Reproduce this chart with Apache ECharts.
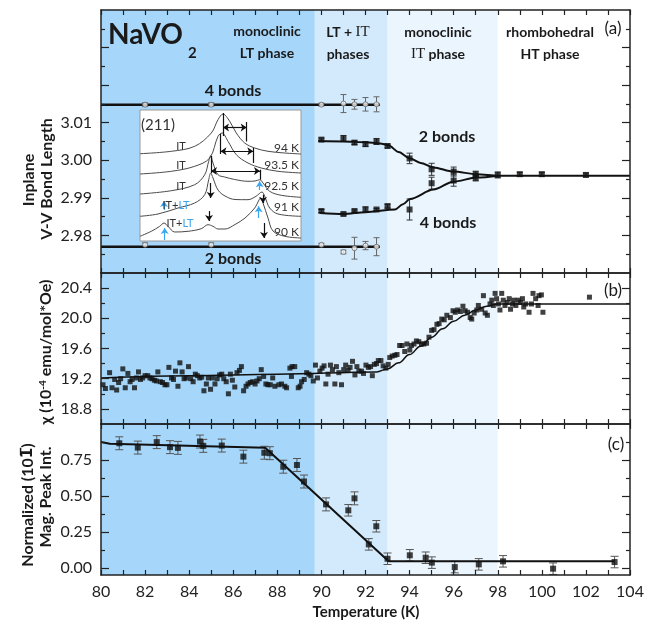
<!DOCTYPE html>
<html lang="en">
<head>
<meta charset="UTF-8" />
<title>NaVO2 structural and magnetic transitions</title>
<script src="https://cdn.jsdelivr.net/npm/echarts@6/dist/echarts.min.js"></script>
<style>
  html, body { margin: 0; padding: 0; background: #fff; }
  #main { width: 655px; height: 629px; }
</style>
</head>
<body>
<div id="main"></div>
<script>
// ---------- data ----------
var phaseBounds = [80, 89.7, 93.0, 98, 104];

var xTicks = [80, 81, 82, 83, 84, 85, 86, 87, 88, 89, 90, 91, 92, 93, 94, 95, 96, 97, 98, 99, 100, 101, 102, 103, 104];
var xTickLabels = [80, 82, 84, 86, 88, 90, 92, 94, 96, 98, 100, 102, 104];

// (a) bond lengths
var bondMajorTicks = [2.98, 2.99, 3.00, 3.01, 3.02, 3.03];
var bondMinorTicks = [2.975, 2.985, 2.995, 3.005, 3.015, 3.025, 3.035];
var bondTickLabels = [2.98, 2.99, 3.00, 3.01];

var twoBondTemps = [90, 91, 91.5, 92, 92.5, 93, 94, 95, 96, 97, 98, 99, 100, 102];
var twoBondValues = [3.0055, 3.0058, 3.0047, 3.0043, 3.0050, 3.0038, 3.0005, 2.9976, 2.9970, 2.9963, 2.9961, 2.9963, 2.9963, 2.9961];
var twoBondErrors = [0.0004, 0.0008, 0.0005, 0.0006, 0.0008, 0.0005, 0.0014, 0.0016, 0.0012, 0.0008, 0.0008, 0.0005, 0.0005, 0.0005];

var fourBondTemps = [90, 91, 91.5, 92, 92.5, 93, 94, 95, 96, 97];
var fourBondValues = [2.9865, 2.9857, 2.9865, 2.9869, 2.9869, 2.9878, 2.9869, 2.9939, 2.9946, 2.9953];
var fourBondErrors = [0.0004, 0.0003, 0.0003, 0.0007, 0.0003, 0.0005, 0.0028, 0.0016, 0.0015, 0.0008];

var twoBondFitTemps = [89.86, 91, 92, 92.66, 93.04, 93.5, 94.02, 94.5, 95.08, 95.98, 97.05, 98.03, 104];
var twoBondFitValues = [3.0051, 3.0050, 3.0048, 3.0045, 3.0040, 3.0022, 3.0005, 2.9993, 2.9981, 2.9970, 2.9963, 2.9959, 2.9959];
var fourBondFitTemps = [89.94, 91, 92, 93.34, 93.7, 94.02, 95.08, 95.98, 97.05, 98.03];
var fourBondFitValues = [2.9860, 2.9857, 2.9862, 2.9869, 2.9883, 2.9897, 2.9922, 2.9943, 2.9954, 2.9959];

var ltTemps = [82, 85, 90, 91, 91.5, 92, 92.5];
var ltFourValues = [3.0148, 3.0148, 3.0148, 3.0151, 3.0149, 3.0149, 3.0149];
var ltFourErrors = [0.0005, 0.0005, 0.0004, 0.0024, 0.0013, 0.0018, 0.0020];
var ltTwoValues = [2.9775, 2.9775, 2.9775, 2.9756, 2.9766, 2.9773, 2.9770];
var ltTwoErrors = [0.0005, 0.0005, 0.0004, 0.0005, 0.0029, 0.0011, 0.0024];
var ltLineTemps = [80, 92.65];
var ltFourLine = [3.0148, 3.0148];
var ltTwoLine = [2.9770, 2.9770];

// (b) susceptibility
var chiMajorTicks = [18.8, 19.2, 19.6, 20.0, 20.4];
var chiMinorTicks = [19.0, 19.4, 19.8, 20.2];
var chiTemps = [
  80.09, 80.20, 80.39, 80.50, 80.62, 80.71, 80.80, 80.89, 80.99, 81.10,
  81.22, 81.32, 81.41, 81.52, 81.61, 81.70, 81.79, 81.89, 82.00, 82.12,
  82.22, 82.31, 82.42, 82.51, 82.58, 82.69, 82.79, 82.90, 82.99, 83.08,
  83.20, 83.29, 83.38, 83.49, 83.58, 83.68, 83.77, 83.86, 83.97, 84.07,
  84.18, 84.28, 84.37, 84.48, 84.57, 84.67, 84.78, 84.87, 84.97, 85.05,
  85.17, 85.27, 85.38, 85.48, 85.57, 85.68, 85.78, 85.87, 85.96, 86.07,
  86.17, 86.28, 86.37, 86.47, 86.58, 86.67, 86.77, 86.88, 86.99, 87.08,
  87.18, 87.27, 87.38, 87.48, 87.57, 87.68, 87.79, 87.89,
  88.07, 88.19, 88.34, 88.42, 88.57, 88.64, 88.67, 88.79, 88.95, 89.03,
  89.10, 89.22, 89.33, 89.43, 89.52, 89.63, 89.73, 89.82, 89.93, 90.03,
  90.12, 90.20, 90.30, 90.41, 90.50, 90.61, 90.68, 90.79, 90.91, 91.01,
  91.10, 91.21, 91.30, 91.41, 91.52, 91.61, 91.70, 91.82, 91.91, 92.02,
  92.13, 92.23, 92.31, 92.40, 92.50, 92.58, 92.70, 92.80, 92.92, 93.03,
  93.10, 93.21, 93.33, 93.43, 93.55, 93.66, 93.78, 93.88, 94.01, 94.08,
  94.20, 94.31, 94.42, 94.54, 94.65, 94.77, 94.88, 95.00, 95.11, 95.24,
  95.34, 95.46, 95.57, 95.69,
  95.85, 95.97, 96.07, 96.18, 96.30, 96.42, 96.52, 96.63, 96.75, 96.82,
  96.93, 97.05, 97.12, 97.27, 97.35, 97.43, 97.53, 97.65, 97.73, 97.80,
  97.88, 97.95, 98.03, 98.10, 98.18, 98.25, 98.33, 98.43, 98.52, 98.58,
  98.67, 98.73, 98.82, 98.93, 99.03, 99.12, 99.18, 99.27, 99.42, 99.53,
  99.60, 99.72, 99.83, 99.87, 99.98, 100.05, 102.16
];
var chiValues = [
  19.12, 19.07, 19.28, 19.08, 19.19, 19.05, 19.15, 19.20, 19.33, 19.08,
  19.27, 19.16, 19.19, 19.08, 19.21, 19.29, 19.19, 19.21, 19.24, 19.24,
  19.21, 19.20, 19.18, 19.17, 19.29, 19.16, 19.15, 19.12, 19.12, 19.35,
  19.21, 19.19, 19.30, 19.10, 19.41, 19.29, 19.20, 19.21, 19.36, 19.20,
  19.16, 19.26, 19.24, 19.21, 19.22, 19.04, 19.13, 19.21, 19.06, 19.21,
  19.13, 19.20, 19.25, 19.26, 19.20, 19.16, 19.00, 19.26, 19.18, 19.09,
  19.28, 19.31, 19.36, 19.04, 19.10, 19.13, 19.15, 19.16, 19.13, 19.17,
  19.20, 19.32, 19.23, 19.13, 19.12, 19.12, 19.21, 19.10,
  19.12, 19.13, 19.10, 19.08, 19.34, 19.23, 19.36, 19.36, 19.08, 19.10,
  19.16, 19.19, 19.28, 19.26, 19.24, 19.17, 19.38, 19.21, 19.30, 19.34,
  19.37, 19.13, 19.26, 19.38, 19.32, 19.13, 19.36, 19.28, 19.12, 19.32,
  19.38, 19.31, 19.35, 19.43, 19.25, 19.36, 19.30, 19.30, 19.27, 19.38,
  19.35, 19.36, 19.24, 19.39, 19.40, 19.44, 19.44, 19.37, 19.34, 19.39,
  19.48, 19.50, 19.51, 19.52, 19.64, 19.64, 19.56, 19.66, 19.58, 19.64,
  19.66, 19.70, 19.69, 19.66, 19.66, 19.67, 19.75, 19.84, 19.85, 19.92,
  19.93, 19.99, 19.98, 20.04,
  20.01, 20.10, 20.08, 20.11, 20.09, 20.16, 20.10, 20.08, 20.01, 19.99,
  20.07, 20.11, 20.17, 20.12, 20.30, 20.07, 20.04, 20.19, 20.24, 20.17,
  20.33, 20.26, 20.19, 20.11, 20.33, 20.24, 20.17, 20.21, 20.26, 20.12,
  20.19, 20.24, 20.17, 20.24, 20.21, 20.26, 20.15, 20.19, 20.08, 20.19,
  20.33, 20.26, 20.17, 20.30, 20.31, 20.08, 20.28
];
var chiFitTemps = [80, 84, 88, 92.5, 93.0, 93.5, 94.0, 94.5, 95.0, 95.5, 96.0, 96.5, 97.0, 97.5, 98.0, 104];
var chiFitValues = [19.21, 19.24, 19.26, 19.29, 19.33, 19.41, 19.52, 19.63, 19.75, 19.86, 19.96, 20.04, 20.11, 20.16, 20.19, 20.19];

// (c) magnetic peak intensity
var magMajorTicks = [0, 0.25, 0.5, 0.75];
var magMinorTicks = [0.125, 0.375, 0.625, 0.875];
var magTemps = [80.83, 81.67, 82.53, 83.13, 83.49, 84.49, 84.64, 85.48, 86.46, 87.41, 87.66, 88.27, 88.89, 89.21,
  90.21, 91.22, 91.5, 92.15, 92.49, 93.0, 94.01, 94.73, 95.01, 96.05, 97.14, 98.24, 100.51, 103.3];
var magValues = [0.866, 0.836, 0.874, 0.839, 0.834, 0.878, 0.848, 0.850, 0.773, 0.800, 0.797, 0.703, 0.715, 0.600,
  0.441, 0.400, 0.483, 0.163, 0.289, 0.063, 0.087, 0.070, 0.036, 0.005, 0.024, 0.045, -0.006, 0.040];
var magErrors = [0.045, 0.045, 0.045, 0.045, 0.045, 0.045, 0.045, 0.045, 0.045, 0.045, 0.045, 0.045, 0.045, 0.045,
  0.045, 0.040, 0.045, 0.040, 0.040, 0.040, 0.040, 0.040, 0.040, 0.040, 0.040, 0.040, 0.040, 0.040];
var magFitTemps = [80, 80.4, 87.45, 93.05, 103.3];
var magFitValues = [0.875, 0.862, 0.835, 0.045, 0.045];

// inset: (211) peak profiles, in inset units (x right, y down)
var inset94 = [[0, 43.7], [31.3, 41.3], [54.7, 36.3], [71.3, 23], [78, 9.7], [83, 4], [89.7, 11.3], [96.3, 23],
  [104.7, 33], [114.7, 38], [128, 41.3], [144.7, 43], [161, 44]];
var inset935 = [[0, 64], [31.3, 61.3], [54.7, 56.3], [69.7, 48], [78, 26.3], [82, 23], [88, 31.3], [96.3, 44.7],
  [108, 53], [121.3, 58], [138, 61.3], [161, 63]];
var inset925 = [[0, 84], [31.3, 80.7], [54.7, 74.7], [64.7, 64.7], [68.7, 51.3], [70.7, 45.7], [73, 53], [78, 64.7],
  [84.7, 67], [94.7, 69.5], [108, 71.3], [115, 71], [119.7, 69.7], [123, 73], [129.7, 81.3], [141.3, 85.3], [161, 87.3]];
var inset91 = [[0, 106.3], [18, 104], [38, 98], [54.7, 93], [64.7, 84.7], [68.7, 69.7], [70.7, 63], [73, 68], [78, 80],
  [85, 86], [95, 89.5], [108, 89.7], [116, 86.3], [122, 82], [124.7, 86.3], [129.7, 98], [138, 104], [161, 106.3]];
var inset90 = [[0, 126.3], [11.3, 121.3], [19.7, 116.3], [24, 113], [28, 116.3], [34.7, 122], [48, 121.3], [61.3, 118.7],
  [68, 114.7], [73, 116.3], [78, 119], [85, 119], [95, 114.5], [105, 108], [114.7, 98], [119, 90], [120.5, 88],
  [123, 93], [128, 108], [133, 121], [144.7, 126.3], [161, 128]];
var insetBrackets = [[[83, 3], [83, 26]], [[106.7, 12], [106.7, 31.5]], [[80.5, 24], [80.5, 44]],
  [[113.3, 38], [113.3, 53]], [[71, 46], [71, 63]], [[120, 59.7], [120, 69.7]]];
var insetSpans = [[[83, 17.5], [106.7, 17.5]], [[80.5, 41.3], [113.3, 41.3]], [[71, 61], [120, 61]]];
var insetDownArrows = [[[70.7, 73], [70.7, 88]], [[69, 101], [69, 111]], [[123, 84.7], [123, 93]], [[124, 113], [124, 128]]];
var insetUpArrows = [[[24, 100], [24, 91]], [[24.7, 130], [24.7, 118]], [[119.7, 80], [119.7, 71.3]], [[118.7, 108], [118.7, 96.3]]];

// ---------- styles ----------
var FONT = 'Lato, "Open Sans", sans-serif';
var INK = '#1a1a1a';
var phaseColors = ['#A6D7FA', '#D3EAFC', '#EAF5FE', '#FFFFFF'];
var LT_BLUE = '#3aa6f2';

function zip(xs, ys) { return xs.map(function (x, i) { return [x, ys[i]]; }); }
function errRows(xs, ys, es) { return xs.map(function (x, i) { return [x, ys[i] - es[i], ys[i] + es[i]]; }); }

function errorBars(xi, yi, rows, color, cap) {
  return {
    type: 'custom', xAxisIndex: xi, yAxisIndex: yi, z: 3, silent: true,
    data: rows, encode: { x: 0, y: [1, 2] },
    renderItem: function (params, api) {
      var x = api.value(0);
      var a = api.coord([x, api.value(1)]);
      var b = api.coord([x, api.value(2)]);
      var s = { stroke: color, lineWidth: 1 };
      return { type: 'group', children: [
        { type: 'line', shape: { x1: a[0], y1: a[1], x2: b[0], y2: b[1] }, style: s },
        { type: 'line', shape: { x1: a[0] - cap, y1: a[1], x2: a[0] + cap, y2: a[1] }, style: s },
        { type: 'line', shape: { x1: b[0] - cap, y1: b[1], x2: b[0] + cap, y2: b[1] }, style: s }
      ] };
    }
  };
}

function bands(xi, yi) {
  var data = [];
  for (var i = 0; i < phaseColors.length; i++) {
    data.push([{ xAxis: phaseBounds[i], itemStyle: { color: phaseColors[i] } }, { xAxis: phaseBounds[i + 1] }]);
  }
  return { type: 'line', xAxisIndex: xi, yAxisIndex: yi, data: [], silent: true,
    markArea: { silent: true, z: 1, label: { show: false }, data: data } };
}

function squares(xi, yi, data, size) {
  return { type: 'scatter', xAxisIndex: xi, yAxisIndex: yi, data: data, symbol: 'rect', symbolSize: size,
    itemStyle: { color: '#111' }, z: 4, silent: true };
}

function fitLine(xi, yi, data, width, smooth) {
  return { type: 'line', xAxisIndex: xi, yAxisIndex: yi, data: data, showSymbol: false, symbol: 'none',
    smooth: smooth, smoothMonotone: 'x', lineStyle: { color: '#111', width: width }, z: 3, silent: true };
}

// axes
function xAx(grid, pos, labels) {
  return {
    type: 'value', gridIndex: grid, position: pos, min: 80, max: 104, z: 10,
    axisLine: { show: true, onZero: false, lineStyle: { color: '#222', width: 1.5 } },
    axisTick: { show: true, inside: true, length: 5, customValues: xTicks, lineStyle: { color: '#222', width: 1.2 } },
    axisLabel: { show: labels, customValues: xTickLabels, fontFamily: FONT, fontSize: 16, color: '#222', margin: 9 },
    splitLine: { show: false }
  };
}
function yAx(grid, pos, min, max, ticks, len, labels, digits) {
  return {
    type: 'value', gridIndex: grid, position: pos, min: min, max: max, z: 10,
    axisLine: { show: len > 5, onZero: false, lineStyle: { color: '#222', width: 1.5 } },
    axisTick: { show: true, inside: true, length: len, customValues: ticks, lineStyle: { color: '#222', width: 1.2 } },
    axisLabel: labels ? { show: true, customValues: labels, fontFamily: FONT, fontSize: 16, color: '#222', margin: 9,
      formatter: function (v) { return v.toFixed(digits); } } : { show: false },
    splitLine: { show: false }
  };
}

var grids = [
  { left: 101, top: 10, width: 529, height: 263 },
  { left: 101, top: 273, width: 529, height: 151 },
  { left: 101, top: 424, width: 529, height: 151 },
  { left: 140, top: 110, width: 161, height: 131, show: true, backgroundColor: '#fff', borderColor: '#9a9a9a', borderWidth: 1, z: 3 }
];

var xAxes = [
  xAx(0, 'bottom', false), xAx(0, 'top', false),
  xAx(1, 'bottom', false), xAx(1, 'top', false),
  xAx(2, 'bottom', true), xAx(2, 'top', false),
  { type: 'value', gridIndex: 3, min: 0, max: 161, show: false }
];
var yAxes = [
  yAx(0, 'left', 2.97, 3.04, bondMajorTicks, 8, bondTickLabels, 2),
  yAx(0, 'left', 2.97, 3.04, bondMinorTicks, 4, null),
  yAx(0, 'right', 2.97, 3.04, bondMajorTicks, 8, null),
  yAx(0, 'right', 2.97, 3.04, bondMinorTicks, 4, null),
  yAx(1, 'left', 18.6, 20.6, chiMajorTicks, 8, chiMajorTicks, 1),
  yAx(1, 'left', 18.6, 20.6, chiMinorTicks, 4, null),
  yAx(1, 'right', 18.6, 20.6, chiMajorTicks, 8, null),
  yAx(1, 'right', 18.6, 20.6, chiMinorTicks, 4, null),
  yAx(2, 'left', -0.05, 1.0, magMajorTicks, 8, magMajorTicks, 2),
  yAx(2, 'left', -0.05, 1.0, magMinorTicks, 4, null),
  yAx(2, 'right', -0.05, 1.0, magMajorTicks, 8, null),
  yAx(2, 'right', -0.05, 1.0, magMinorTicks, 4, null),
  { type: 'value', gridIndex: 3, min: 0, max: 131, inverse: true, show: false }
];

function insetCurve(data) {
  return { type: 'line', xAxisIndex: 6, yAxisIndex: 12, data: data, showSymbol: false, symbol: 'none',
    smooth: 0.35, lineStyle: { color: '#4a4a4a', width: 1 }, z: 4, silent: true };
}
function insetMarks(pairs, symbols, color) {
  return { type: 'line', xAxisIndex: 6, yAxisIndex: 12, data: [], silent: true, z: 5,
    markLine: { silent: true, z: 6, symbol: symbols, symbolSize: 6, animation: false,
      label: { show: false }, lineStyle: { type: 'solid', color: color, width: 1.2 },
      data: pairs.map(function (p) { return [{ coord: p[0] }, { coord: p[1] }]; }) } };
}

var series = [
  // (a)
  bands(0, 0),
  fitLine(0, 0, zip(ltLineTemps, ltFourLine), 2.5, false),
  fitLine(0, 0, zip(ltLineTemps, ltTwoLine), 2.5, false),
  errorBars(0, 0, errRows(ltTemps, ltFourValues, ltFourErrors), '#666', 3),
  errorBars(0, 0, errRows(ltTemps, ltTwoValues, ltTwoErrors), '#666', 3),
  { type: 'scatter', xAxisIndex: 0, yAxisIndex: 0, data: zip(ltTemps, ltFourValues).concat(zip(ltTemps, ltTwoValues)),
    symbol: 'circle', symbolSize: 5, itemStyle: { color: '#f4f4f4', borderColor: '#666', borderWidth: 1 }, z: 4, silent: true },
  fitLine(0, 0, zip(twoBondFitTemps, twoBondFitValues), 2, 0.3),
  fitLine(0, 0, zip(fourBondFitTemps, fourBondFitValues), 2, 0.3),
  errorBars(0, 0, errRows(twoBondTemps, twoBondValues, twoBondErrors), '#333', 3),
  errorBars(0, 0, errRows(fourBondTemps, fourBondValues, fourBondErrors), '#333', 3),
  squares(0, 0, zip(twoBondTemps, twoBondValues), 6),
  squares(0, 0, zip(fourBondTemps, fourBondValues), 6),
  // (b)
  bands(2, 4),
  fitLine(2, 4, zip(chiFitTemps, chiFitValues), 1.5, 0.4),
  squares(2, 4, zip(chiTemps, chiValues), 5),
  // (c)
  bands(4, 8),
  fitLine(4, 8, zip(magFitTemps, magFitValues), 2, false),
  errorBars(4, 8, errRows(magTemps, magValues, magErrors), '#555', 4),
  squares(4, 8, zip(magTemps, magValues), 6),
  // inset
  insetCurve(inset94), insetCurve(inset935), insetCurve(inset925), insetCurve(inset91), insetCurve(inset90),
  insetMarks(insetBrackets, ['none', 'none'], '#111'),
  insetMarks(insetSpans, ['arrow', 'arrow'], '#111'),
  insetMarks(insetDownArrows, ['none', 'arrow'], '#111'),
  insetMarks(insetUpArrows, ['none', 'arrow'], LT_BLUE)
];

// ---------- text ----------
function txt(x, y, text, font, align, extra) {
  var el = { type: 'text', x: x, y: y, z: 100, silent: true,
    style: { text: text, font: font, fill: INK, align: align || 'center', verticalAlign: 'middle' } };
  if (extra) {
    for (var k in extra) {
      if (k === 'style') { for (var s in extra.style) el.style[s] = extra.style[s]; }
      else el[k] = extra[k];
    }
  }
  return el;
}
var B14 = 'bold 14px ' + FONT;
var B16 = 'bold 16px ' + FONT;
var serifIT = { s: { fontFamily: '"Liberation Serif", serif', fontSize: 15, fontWeight: 'normal', fill: INK } };
var ltRich = { b: { fill: LT_BLUE, fontSize: 11, fontFamily: FONT } };
var up = Math.PI / 2;

var texts = [
  txt(108, 35, 'NaVO', 'bold 28px ' + FONT, 'left'),
  txt(188, 53, '2', 'bold 15px ' + FONT, 'left'),
  txt(267, 31, 'monoclinic', B14), txt(267, 53, 'LT phase', B14),
  txt(348, 32, 'LT + {s|IT}', B14, 'center', { style: { rich: serifIT } }),
  txt(348, 54, 'phases', B14),
  txt(438, 32, 'monoclinic', B14),
  txt(438, 54, '{s|IT} phase', B14, 'center', { style: { rich: serifIT } }),
  txt(550, 32, 'rhombohedral', B14), txt(550, 54, 'HT phase', B14),
  txt(613, 29, '(a)', '17px ' + FONT), txt(613, 291, '(b)', '17px ' + FONT), txt(616, 445, '(c)', '17px ' + FONT),
  txt(233, 91, '4 bonds', B16), txt(233, 259, '2 bonds', B16),
  txt(447, 137, '2 bonds', B16), txt(448, 223, '4 bonds', B16),
  txt(29, 180, 'Inplane', B16, 'center', { rotation: up }),
  txt(47, 179, 'V-V Bond Length', B16, 'center', { rotation: up }),
  txt(46, 352, 'χ (10{sup|-4} emu/mol*Oe)', B16, 'center', { rotation: up,
    style: { rich: { sup: { fontSize: 10, fontWeight: 'bold', fontFamily: FONT, verticalAlign: 'top', fill: INK } } } }),
  txt(28, 505, 'Normalized (10{ov|1\u0305})', B16, 'center', { rotation: up,
    style: { rich: { ov: { fontFamily: '"DejaVu Sans", sans-serif', fontSize: 15, fontWeight: 'bold', fill: INK } } } }),
  txt(46, 497, 'Mag. Peak Int.', B16, 'center', { rotation: up }),
  txt(366, 612, 'Temperature (K)', 'bold 15px ' + FONT),
  // inset labels
  txt(158, 125, '(211)', '15px ' + FONT, 'center', { style: { fill: '#333' } }),
  txt(181, 146, 'IT', '11px ' + FONT, 'center', { style: { fill: '#333' } }),
  txt(181, 165, 'IT', '11px ' + FONT, 'center', { style: { fill: '#333' } }),
  txt(181, 186, 'IT', '11px ' + FONT, 'center', { style: { fill: '#333' } }),
  txt(176, 205, 'IT+{b|LT}', '11px ' + FONT, 'center', { style: { fill: '#333', rich: ltRich } }),
  txt(180, 223, 'IT+{b|LT}', '11px ' + FONT, 'center', { style: { fill: '#333', rich: ltRich } }),
  txt(299, 148, '94 K', '12px ' + FONT, 'right', { style: { fill: '#333' } }),
  txt(299, 165, '93.5 K', '12px ' + FONT, 'right', { style: { fill: '#333' } }),
  txt(299, 186, '92.5 K', '12px ' + FONT, 'right', { style: { fill: '#333' } }),
  txt(299, 207, '91 K', '12px ' + FONT, 'right', { style: { fill: '#333' } }),
  txt(299, 232, '90 K', '12px ' + FONT, 'right', { style: { fill: '#333' } })
];

var chart = echarts.init(document.getElementById('main'));
chart.setOption({
  animation: false,
  backgroundColor: '#fff',
  grid: grids,
  xAxis: xAxes,
  yAxis: yAxes,
  series: series,
  graphic: { elements: texts }
});
</script>
</body>
</html>
